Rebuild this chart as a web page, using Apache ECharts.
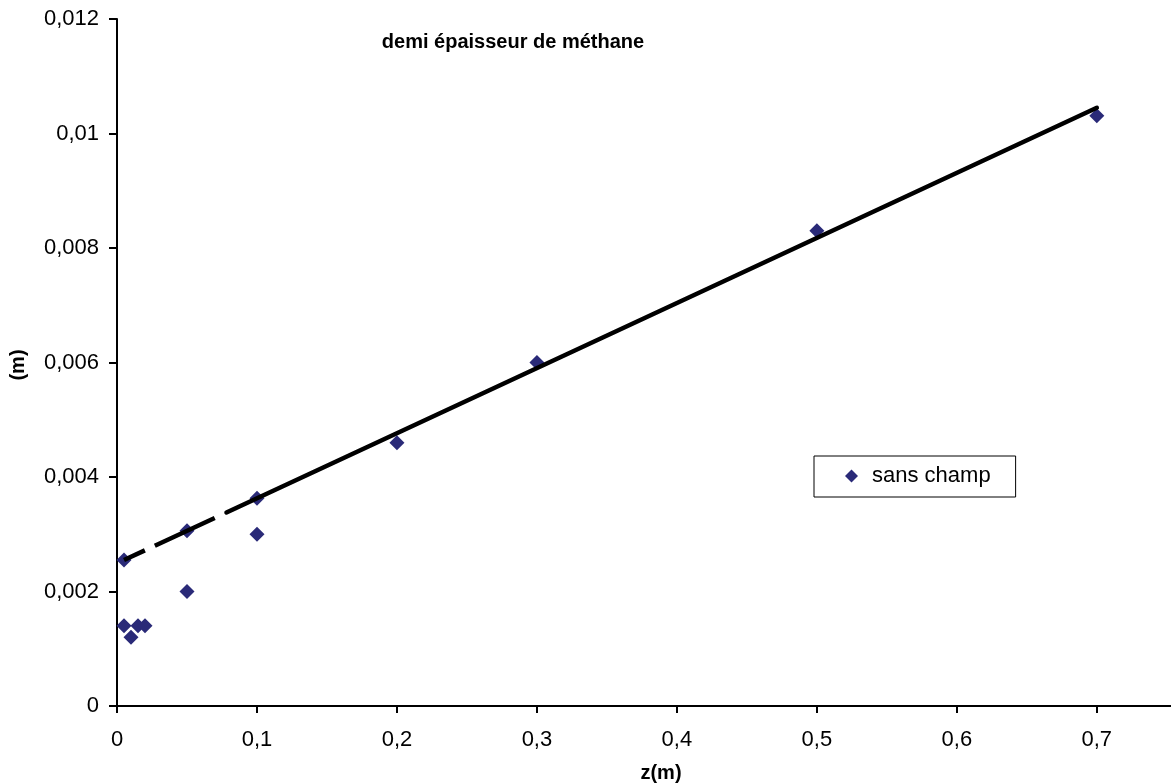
<!DOCTYPE html>
<html>
<head>
<meta charset="utf-8">
<script src="https://cdn.jsdelivr.net/npm/echarts@6/dist/echarts.min.js"></script>
<style>
html,body{margin:0;padding:0;background:#fff;}
#chart{width:1171px;height:783px;}
</style>
</head>
<body>
<div id="chart"></div>
<script>
// Measured points (z in m, half thickness in m)
const zValues = [0.005, 0.005, 0.01, 0.015, 0.02, 0.05, 0.05, 0.1, 0.1, 0.2, 0.3, 0.5, 0.7];
const thickness = [0.00255, 0.0014, 0.0012, 0.0014, 0.0014, 0.00306, 0.002, 0.00363, 0.003, 0.0046, 0.006, 0.0083, 0.01031];
// Trend line: dashed start, then solid
const trendX = [0.005, 0.0782, 0.7];
const trendY = [0.00255, 0.00338, 0.01045];
const titleText = 'demi épaisseur de méthane';
const seriesName = 'sans champ';
const xName = 'z(m)';
const yName = '(m)';

const FONT = '"Liberation Sans", Arial, sans-serif';
const chart = echarts.init(document.getElementById('chart'), null, {renderer: 'canvas'});

function fmt(v, step) {
  const k = Math.round(v / step);
  if (Math.abs(k * step - v) > step * 1e-6) return '';
  return String(+(k * step).toFixed(4)).replace('.', ',');
}

chart.setOption({
  animation: false,
  backgroundColor: '#fff',
  grid: {left: 117, top: 19, right: 0, bottom: 77, containLabel: false},
  xAxis: {
    type: 'value', min: 0, max: 0.753, interval: 0.1,
    splitLine: {show: false},
    axisLine: {show: true, onZero: false, lineStyle: {color: '#000', width: 2}},
    axisTick: {show: true, length: 7, lineStyle: {color: '#000', width: 2}},
    axisLabel: {
      margin: 23, color: '#000', fontSize: 22, fontFamily: FONT,
      showMaxLabel: false,
      formatter: v => fmt(v, 0.1)
    }
  },
  yAxis: {
    type: 'value', min: 0, max: 0.012, interval: 0.002,
    splitLine: {show: false},
    axisLine: {show: true, onZero: false, lineStyle: {color: '#000', width: 2}},
    axisTick: {show: true, length: 8, lineStyle: {color: '#000', width: 2}},
    axisLabel: {
      margin: 18, color: '#000', fontSize: 22, fontFamily: FONT,
      formatter: v => fmt(v, 0.002)
    }
  },
  legend: {
    data: [{name: seriesName, icon: 'diamond'}],
    left: 814, top: 456,
    orient: 'vertical',
    backgroundColor: '#fff',
    borderColor: '#000', borderWidth: 1, borderRadius: 0,
    padding: [9, 25, 10, 31],
    itemWidth: 13, itemHeight: 13,
    itemStyle: {color: '#2a2a78', opacity: 1},
    textStyle: {color: '#000', fontSize: 22, fontFamily: FONT, padding: [0, 0, 0, 9]}
  },
  graphic: [
    {type: 'text', x: 513, y: 42, style: {text: titleText, fill: '#000', font: 'bold 20px ' + FONT, textAlign: 'center', textVerticalAlign: 'middle'}},
    {type: 'text', x: 661, y: 773, style: {text: xName, fill: '#000', font: 'bold 20px ' + FONT, textAlign: 'center', textVerticalAlign: 'middle'}},
    {type: 'text', x: 18, y: 365, rotation: Math.PI / 2, style: {text: yName, fill: '#000', font: 'bold 20px ' + FONT, textAlign: 'center', textVerticalAlign: 'middle'}}
  ],
  series: [
    {
      name: seriesName, type: 'scatter', symbol: 'diamond', symbolSize: 15,
      itemStyle: {color: '#2a2a78', opacity: 1}, z: 2,
      data: zValues.map((x, i) => [x, thickness[i]])
    },
    {
      name: 'trend-dashed', type: 'line', symbol: 'none', z: 3,
      lineStyle: {color: '#000', width: 4.5, type: [23, 11, 66, 13], cap: 'butt'},
      data: [[trendX[0], trendY[0]], [trendX[1], trendY[1]]]
    },
    {
      name: 'trend-solid', type: 'line', symbol: 'none', z: 3,
      lineStyle: {color: '#000', width: 4.5, cap: 'round'},
      data: [[trendX[1], trendY[1]], [trendX[2], trendY[2]]]
    }
  ]
});
</script>
</body>
</html>
